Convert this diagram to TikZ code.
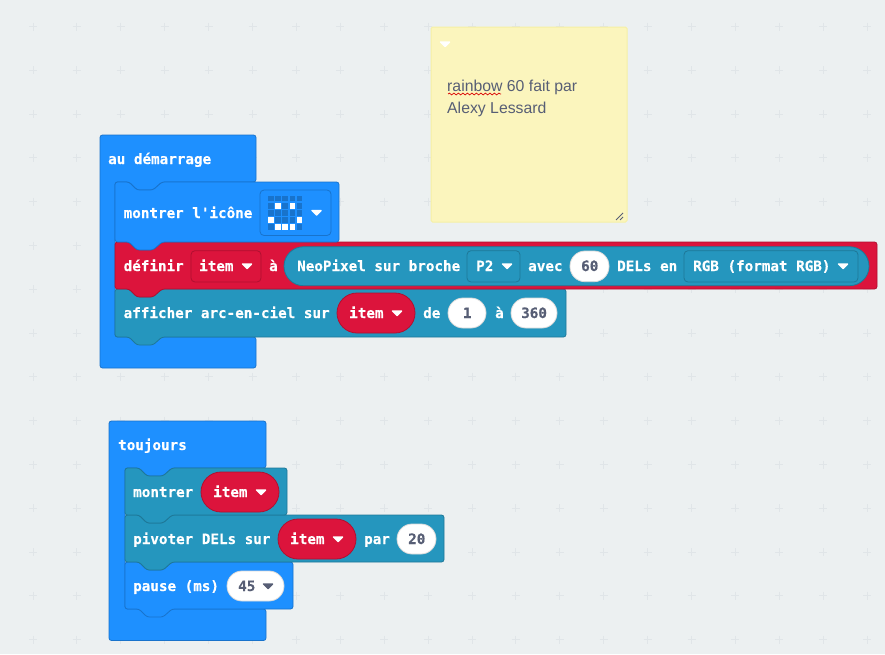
\documentclass[tikz,border=0pt]{standalone}
\usepackage{fontspec}
\setmainfont{Liberation Sans}
\newfontfamily\blockfont{DejaVu Sans Mono Bold}[FakeBold=0.4]
\usetikzlibrary{decorations.pathmorphing}
\definecolor{bgc}{HTML}{ECF0F1}
\definecolor{plusc}{HTML}{E0E5E8}
\definecolor{bluec}{HTML}{1E90FF}
\definecolor{blued}{HTML}{1873CC}
\definecolor{redc}{HTML}{DC143C}
\definecolor{redd}{HTML}{B01030}
\definecolor{tealc}{HTML}{2596BE}
\definecolor{teald}{HTML}{1E7898}
\definecolor{inkc}{HTML}{575E75}
\definecolor{notec}{HTML}{FBF5BD}
\definecolor{noted}{HTML}{F6F0A4}
\tikzset{
  lab/.style={anchor=base west,inner sep=0pt,text=white,font=\blockfont\fontsize{14.25}{16}\selectfont},
  val/.style={lab,text=inkc},
  capsule/.style={draw,line width=.8pt,inner sep=0pt,outer sep=0pt},
  notetxt/.style={anchor=base west,inner sep=0pt,text=inkc,font=\fontsize{15.8}{19}\selectfont},
  blockline/.style={line width=.8pt,rounded corners=2.5pt,line join=round},
  tri/.style={line width=1.4pt,line join=round}
}
% name x0 y0 x1 y1 fill stroke radius
\newcommand{\capsuleat}[8]{%
  \node[capsule,fill=#6,draw=#7,rounded corners=#8,
        minimum width={(#4-#2)*1pt},minimum height={(#5-#3)*1pt}]
        (#1) at ({(#2+#4)/2},{(#3+#5)/2}) {};}
% x0 y0 x1 y1 fill stroke : stacked block with notch and tab
\newcommand{\stackblock}[6]{%
  \draw[blockline,fill=#5,draw=#6]
    (#1,#2) -- ({#1+14},#2) -- ({#1+22},{#2+8}) -- ({#1+38},{#2+8}) -- ({#1+47},#2)
    -- (#3,#2) -- (#3,#4)
    -- ({#1+47},#4) -- ({#1+38},{#4+8}) -- ({#1+22},{#4+8}) -- ({#1+14},#4)
    -- (#1,#4) -- cycle;}
% x0 y0 x1 header-bottom arm-x arm-bottom y1 : hat block
\newcommand{\hatblock}[7]{%
  \draw[blockline,fill=bluec,draw=blued]
    (#1,#2) -- (#3,#2) -- (#3,#4)
    -- ({#5+47},#4) -- ({#5+38},{#4+8}) -- ({#5+22},{#4+8}) -- ({#5+14},#4)
    -- (#5,#4) -- (#5,#6) -- (#3,#6) -- (#3,#7) -- (#1,#7) -- cycle;}
% x y colour
\newcommand{\downtri}[3]{%
  \draw[tri,fill=#3,draw=#3] ({#1-4.5},{#2-2}) -- ({#1+4.5},{#2-2}) -- (#1,{#2+2.5}) -- cycle;}
\begin{document}
\begin{tikzpicture}[x=1pt,y=-1pt]
\useasboundingbox (0,0) rectangle (885,654);
\fill[bgc] (0,0) rectangle (885,654);
% workspace grid
\foreach \i in {0,...,19}{\foreach \j in {0,...,14}{
  \pgfmathsetmacro{\gx}{33+43.9*\i}\pgfmathsetmacro{\gy}{26.5+43.8*\j}
  \draw[plusc,line width=1pt] (\gx-4,\gy) -- (\gx+4,\gy) (\gx,\gy-4) -- (\gx,\gy+4);
}}
% sticky note
\draw[fill=notec,draw=noted,line width=1pt,rounded corners=1.5pt] (431,27) rectangle (627,222);
\downtri{445}{44}{white}
\node[notetxt] (note1) at (447,91) {rainbow 60 fait par};
\node[notetxt] (note2) at (447,113) {Alexy Lessard};
\draw[red!85!black,line width=.7pt,decorate,decoration={snake,amplitude=.9pt,segment length=4.5pt}] (448,94) -- (501,94);
\draw[inkc,line width=.8pt] (616,220) -- (623,213) (620,220) -- (623,217);
% au demarrage
\hatblock{100}{135}{256}{182}{115}{337}{368}
\node[lab] (start) at (108,164) {au démarrage};
\stackblock{115}{289}{566}{337}{tealc}{teald}
\stackblock{115}{242}{877}{289}{redc}{redd}
\stackblock{115}{182}{339}{242}{bluec}{blued}
\node[lab] (showicon) at (123.5,218) {montrer l'icône};
\capsuleat{iconfield}{260}{190}{331}{235.5}{bluec}{blued}{4pt}
\foreach \c in {0,...,4}{\foreach \r in {0,...,4}{
  \pgfmathsetmacro{\lx}{268.2+7.1*\c}\pgfmathsetmacro{\ly}{195.7+7.1*\r}
  \fill[blued] (\lx,\ly) rectangle (\lx+5.7,\ly+5.7);
}}
\foreach \c/\r in {1/1,3/1,0/3,4/3,1/4,2/4,3/4}{
  \pgfmathsetmacro{\lx}{268.2+7.1*\c}\pgfmathsetmacro{\ly}{195.7+7.1*\r}
  \fill[white] (\lx,\ly) rectangle (\lx+5.7,\ly+5.7);
}
\downtri{316.5}{212.5}{white}
% definir
\node[lab] (setlab) at (123.5,271) {définir};
\capsuleat{itemfield}{191}{250.7}{261}{282}{redc}{redd}{4pt}
\node[lab] (itema) at (199,271) {item};
\downtri{247}{266}{white}
\node[lab] (aone) at (269,271) {à};
\capsuleat{neopill}{284}{246.7}{869}{285.7}{tealc}{teald}{19.5pt}
\node[lab] (neotext) at (297,271) {NeoPixel sur broche};
\capsuleat{pinfield}{467}{250.7}{520}{282}{tealc}{teald}{4pt}
\node[lab] (pintext) at (476,271) {P2};
\downtri{507}{266}{white}
\node[lab] (avec) at (528,271) {avec};
\capsuleat{sixty}{570}{251}{609}{281.7}{white}{white!85!black}{15pt}
\node[val] (sixtyt) at (581,271) {60};
\node[lab] (delsen) at (617,271) {DELs en};
\capsuleat{rgbfield}{684}{250.7}{858}{282}{tealc}{teald}{4pt}
\node[lab] (rgbtext) at (693,271) {RGB (format RGB)};
\downtri{843}{266}{white}
% afficher
\node[lab] (rainbow) at (123.5,318) {afficher arc-en-ciel sur};
\capsuleat{itemb}{337}{293}{415}{333}{redc}{redd}{20pt}
\node[lab] (itembt) at (349,318) {item};
\downtri{397}{313}{white}
\node[lab] (de) at (423,318) {de};
\capsuleat{onepill}{448}{298}{486}{328}{white}{white!85!black}{15pt}
\node[val] (onet) at (462.7,318) {1};
\node[lab] (atwo) at (495,318) {à};
\capsuleat{threesixty}{511}{298}{557}{328}{white}{white!85!black}{15pt}
\node[val] (threesixtyt) at (521,318) {360};
% toujours
\hatblock{109}{421}{266}{468}{125}{609}{640.5}
\node[lab] (forever) at (118,450) {toujours};
\stackblock{125}{562}{293}{609}{bluec}{blued}
\stackblock{125}{515}{444}{562}{tealc}{teald}
\stackblock{125}{468}{287}{515}{tealc}{teald}
\node[lab] (showl) at (133,497) {montrer};
\capsuleat{itemc}{201}{472}{279}{512}{redc}{redd}{20pt}
\node[lab] (itemct) at (213,497) {item};
\downtri{261}{492}{white}
\node[lab] (rotl) at (133,544) {pivoter DELs sur};
\capsuleat{itemd}{278}{519}{356}{559}{redc}{redd}{20pt}
\node[lab] (itemdt) at (290,544) {item};
\downtri{338}{539}{white}
\node[lab] (par) at (364,544) {par};
\capsuleat{twenty}{397}{524}{436}{554}{white}{white!85!black}{15pt}
\node[val] (twentyt) at (408,544) {20};
\node[lab] (pausel) at (133,591) {pause (ms)};
\capsuleat{fortyfive}{227}{571}{284}{601}{white}{white!85!black}{15pt}
\node[val] (fortyfivet) at (238,591) {45};
\downtri{268}{586}{inkc}
\end{tikzpicture}
\end{document}
